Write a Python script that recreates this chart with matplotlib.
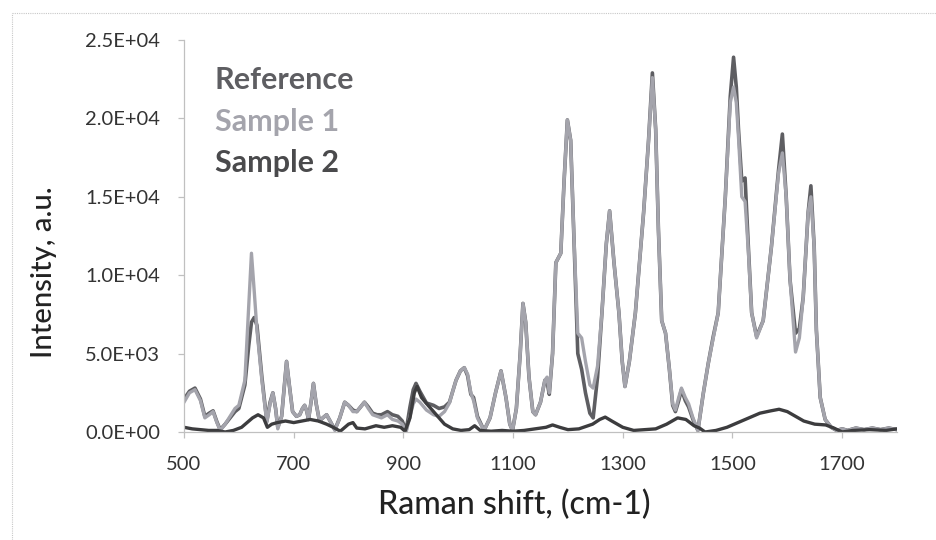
import matplotlib
matplotlib.use("Agg")
import matplotlib.pyplot as plt
from matplotlib.lines import Line2D
from matplotlib.ticker import FuncFormatter

# ---- data ----
wn = [500, 510, 520, 530, 538, 546, 553, 560, 566, 575, 584, 593, 600, 611, 618, 623, 628, 633,
      642, 651, 657, 662, 667, 671, 678, 687, 692, 698, 705, 711, 716, 720, 724, 727, 732, 736,
      741, 747, 753, 760, 768, 775, 784, 793, 800, 808, 815, 822, 829, 836, 844, 852, 860, 871,
      880, 890, 898, 905, 912, 918, 923, 930, 942, 955, 965, 975, 984, 990, 996, 1004, 1011,
      1017, 1023, 1028, 1035, 1047, 1058, 1068, 1078, 1087, 1094, 1099, 1106, 1113, 1118, 1123,
      1129, 1136, 1141, 1150, 1158, 1162, 1166, 1172, 1178, 1187, 1193, 1199, 1205, 1211, 1218,
      1225, 1232, 1240, 1246, 1254, 1262, 1270, 1276, 1284, 1293, 1299, 1304, 1312, 1323, 1338,
      1347, 1354, 1360, 1365, 1371, 1378, 1385, 1391, 1396, 1402, 1407, 1414, 1420, 1428, 1437,
      1447, 1456, 1465, 1474, 1480, 1487, 1496, 1502, 1507, 1511, 1517, 1523, 1529, 1535, 1544,
      1556, 1571, 1584, 1591, 1598, 1605, 1615, 1622, 1629, 1638, 1643, 1649, 1653, 1660, 1669,
      1680, 1690, 1700, 1710, 1725, 1740, 1755, 1770, 1785, 1800]

sample1 = [1900, 2500, 2700, 2000, 900, 1100, 1300, 600, 100, 500, 1000, 1500, 1700, 3300, 8000, 11400, 9000, 6500,
           3300, 600, 1800, 2500, 1500, 200, 1000, 4500, 3000, 1300, 1000, 1100, 1500, 1700, 1300, 800, 2000, 3100,
           1800, 700, 900, 1100, 600, 100, 900, 1900, 1700, 1300, 1300, 1600, 1900, 1500, 1100, 1000, 900, 1100,
           800, 700, 500, 0, 1000, 1800, 2100, 1900, 1400, 1100, 1000, 1300, 1850, 2600, 3300, 3900, 4100,
           3700, 2500, 2000, 900, 100, 900, 2500, 3900, 2200, 500, 100, 1500, 5000, 8200, 7000,
           3500, 1300, 1100, 1900, 3300, 3500, 2500, 5000, 10800, 11400, 16000, 19900, 18600, 12400, 6300,
           6000, 4500, 3000, 2800, 4200, 7600, 12000, 14100, 10800, 7600, 4500, 2900, 4500, 7600, 14000,
           18600, 22600, 19300, 12900, 7100, 6300, 4000, 1800, 1400, 2200, 2800, 2200, 1800, 900, 100,
           2500, 4400, 6000, 7600, 11000, 15000, 21000, 22000, 21000, 18800, 15000, 14700, 11500, 7600, 6000,
           7100, 11800, 16500, 17800, 15000, 9700, 5100, 6000, 8600, 14000, 15000, 11800, 6500, 2200, 800,
           300, 100, 200, 100, 250, 150, 250, 150, 250, 150]

reference = [2100, 2600, 2800, 2100, 1000, 1200, 1350, 650, 150, 500, 900, 1300, 1500, 3000, 5500, 7000, 7300, 6800,
             3500, 700, 1900, 2500, 1500, 300, 1000, 4500, 3000, 1300, 1000, 1100, 1500, 1700, 1300, 800, 2000, 3100,
             1800, 700, 900, 1100, 600, 150, 900, 1900, 1700, 1400, 1300, 1600, 1900, 1600, 1200, 1100, 1100, 1300,
             1100, 1000, 700, 100, 1600, 2700, 3100, 2600, 1850, 1700, 1500, 1600, 1900, 2600, 3300, 3900, 4100,
             3600, 2400, 2200, 1000, 100, 900, 2500, 3900, 2200, 500, 100, 1500, 5000, 8200, 7000,
             3500, 1300, 1100, 1900, 3300, 3200, 2400, 5000, 10800, 11400, 16000, 19900, 18600, 12400, 5000,
             4000, 2500, 1200, 900, 3500, 7600, 12000, 14100, 10800, 7600, 4500, 2900, 4500, 7600, 14000,
             18600, 22900, 19300, 12900, 7100, 6300, 4000, 1700, 1300, 2000, 2700, 2000, 1600, 800, 100,
             2500, 4400, 6100, 7600, 11000, 15000, 21400, 23900, 22000, 19300, 16000, 16200, 11800, 7600, 6100,
             7100, 11800, 16700, 19000, 15000, 9700, 6300, 6600, 8600, 14000, 15700, 11800, 6500, 2200, 800,
             300, 100, 200, 100, 250, 150, 250, 150, 250, 150]

wn2 = [500, 515, 530, 545, 560, 575, 590, 605, 615, 625, 635, 645, 652, 660, 670, 685, 700, 715, 730, 745,
       760, 772, 785, 800, 808, 815, 830, 850, 865, 880, 895, 903, 912, 920, 925, 933, 945, 960, 975, 990,
       1005, 1020, 1030, 1040, 1060, 1080, 1100, 1120, 1140, 1160, 1172, 1185, 1200, 1220, 1245, 1258, 1268,
       1280, 1300, 1320, 1340, 1360, 1380, 1400, 1415, 1430, 1440, 1450, 1470, 1490, 1510, 1530, 1550, 1570,
       1585, 1600, 1615, 1630, 1650, 1670, 1685, 1700, 1720, 1750, 1780, 1800]
sample2 = [300, 200, 150, 100, 100, 0, 100, 300, 600, 900, 1100, 900, 300, 500, 600, 700, 600, 700, 800, 700,
           500, 300, 50, 500, 600, 250, 200, 400, 300, 400, 300, 50, 900, 2500, 2900, 2200, 1700, 1100, 500, 200,
           100, 150, 400, 100, 50, 100, 50, 100, 200, 300, 450, 300, 150, 200, 500, 800, 950,
           700, 300, 100, 150, 200, 500, 900, 800, 400, 250, 0, 100, 300, 600, 900, 1200, 1350,
           1450, 1300, 1000, 700, 500, 450, 250, 0, 100, 150, 100, 200]

series_names = ["Reference", "Sample 1", "Sample 2"]
x_ticks = [500, 700, 900, 1100, 1300, 1500, 1700]
y_ticks = [0, 5000, 10000, 15000, 20000, 25000]

# ---- styling ----
font = ["Lato", "DejaVu Sans"]
plt.rcParams["font.family"] = font

c_ref = "#5e5e62"
c_s1 = "#a4a4ac"
c_s2 = "#3c3c3e"

W, H = 937, 540
fig = plt.figure(figsize=(W / 100, H / 100), dpi=100)
fig.patch.set_facecolor("white")

# dotted chart-area border (left and top edges visible)
border_kw = dict(transform=fig.transFigure, color="#c8c8c8", lw=0.8, linestyle=(0, (1, 1)))
fig.add_artist(Line2D([12 / W, 12 / W], [0, 1 - 13 / H], **border_kw))
fig.add_artist(Line2D([12 / W, 1], [1 - 13 / H, 1 - 13 / H], **border_kw))

ax = fig.add_axes([184 / W, 108 / H, (897 - 184) / W, 392 / H])
ax.plot(wn, reference, color=c_ref, lw=2.6, solid_joinstyle="round")
ax.plot(wn, sample1, color=c_s1, lw=2.4, solid_joinstyle="round")
ax.plot(wn2, sample2, color=c_s2, lw=2.4, solid_joinstyle="round")

ax.set_xlim(500, 1800)
ax.set_ylim(0, 25000)
ax.set_xticks(x_ticks)
ax.set_yticks(y_ticks)
ax.yaxis.set_major_formatter(FuncFormatter(lambda v, p: f"{v:.1E}"))

for s in ["top", "right"]:
    ax.spines[s].set_visible(False)
for s in ["left", "bottom"]:
    ax.spines[s].set_color("#c0c0c0")
    ax.spines[s].set_linewidth(0.9)
ax.tick_params(axis="both", colors="#c0c0c0", length=4, width=0.9, labelcolor="#333333",
               labelsize=14.5)
ax.tick_params(axis="y", pad=13)
ax.tick_params(axis="x", pad=13)

# axis titles placed like the reference
fig.text(514 / W, 1 - 505 / H, "Raman shift, (cm-1)", fontsize=23, color="#222222",
         fontweight="medium", ha="center", va="center")
fig.text(44 / W, 1 - 272 / H, "Intensity, a.u.", fontsize=21, color="#222222",
         fontweight="medium", ha="center", va="center", rotation=90)

label_colors = [c_ref, c_s1, "#4a4a4c"]
for i, (name, col) in enumerate(zip(series_names, label_colors)):
    fig.text(215 / W, 1 - (80 + 41.5 * i) / H, name, color=col, fontsize=22,
             fontweight="bold", va="center", ha="left")

fig.savefig("out.png", dpi=100, facecolor="white")
